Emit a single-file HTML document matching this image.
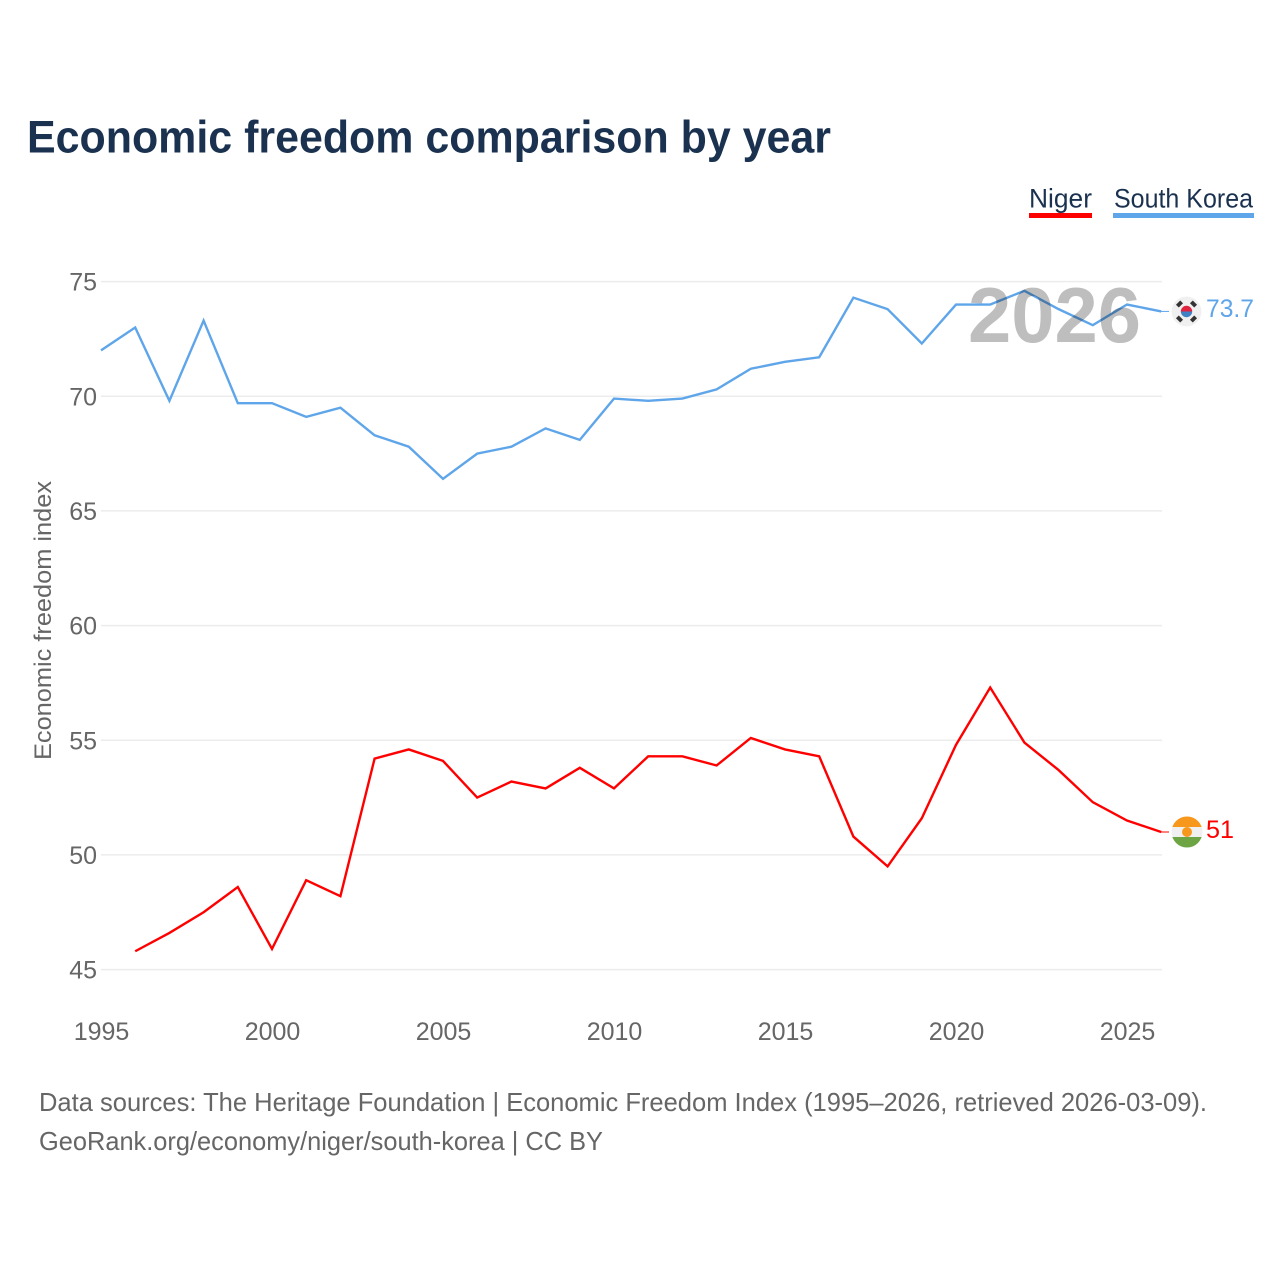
<!DOCTYPE html>
<html lang="en">
<head>
<meta charset="utf-8">
<title>Economic freedom comparison by year</title>
<style>
html,body{margin:0;padding:0;background:#fff;}
svg{display:block;font-family:"Liberation Sans",sans-serif;}
</style>
</head>
<body>
<svg id="chart" width="1280" height="1280" viewBox="0 0 1280 1280" xmlns="http://www.w3.org/2000/svg">
  <defs>
    <clipPath id="flag-kr-clip"><circle cx="1186.5" cy="311.5" r="15"/></clipPath>
    <clipPath id="flag-ne-clip"><circle cx="1187" cy="832" r="15.5"/></clipPath>
  </defs>
  <rect width="1280" height="1280" fill="#fff"/>
  <text x="27" y="152.5" font-size="45" font-weight="700" fill="#1a3250" textLength="804" lengthAdjust="spacingAndGlyphs">Economic freedom comparison by year</text>

  <g>
    <g>
      <text x="1029" y="207.5" font-size="27" fill="#1a3250" textLength="63" lengthAdjust="spacingAndGlyphs">Niger</text>
      <rect x="1029" y="213" width="63" height="5" fill="#ff0000"/>
    </g>
    <g>
      <text x="1114" y="207.5" font-size="27" fill="#1a3250" textLength="139" lengthAdjust="spacingAndGlyphs">South Korea</text>
      <rect x="1113" y="213" width="141" height="5" fill="#5fa5ea"/>
    </g>
  </g>

  <g id="grid"></g>
  <g id="y-ticks"></g>
  <g id="x-ticks"></g>
  <text transform="translate(51,620.5) rotate(-90)" text-anchor="middle" font-size="24" fill="#666" textLength="279" lengthAdjust="spacingAndGlyphs">Economic freedom index</text>

  <g id="series"></g>

  <text x="968" y="342" font-size="78" font-weight="700" fill="#bebebe" textLength="173" lengthAdjust="spacingAndGlyphs" style="mix-blend-mode:multiply">2026</text>

  <g clip-path="url(#flag-kr-clip)">
    <circle cx="1186.5" cy="311.5" r="15" fill="#f0f0f0"/>
    <path d="M1180.8 311.5a5.7 5.7 0 0 1 11.4 0z" fill="#e0243f"/>
    <path d="M1180.8 311.5a5.7 5.7 0 0 0 11.4 0z" fill="#3f7fc4"/>
    <g fill="#333">
      <rect x="-3" y="-2" width="6" height="4" transform="translate(1179.5,304) rotate(-45)"/>
      <rect x="-3" y="-2" width="6" height="4" transform="translate(1193.5,304) rotate(45)"/>
      <rect x="-3" y="-2" width="6" height="4" transform="translate(1179.5,319) rotate(45)"/>
      <rect x="-3" y="-2" width="6" height="4" transform="translate(1193.5,319) rotate(-45)"/>
    </g>
  </g>
  <g clip-path="url(#flag-ne-clip)">
    <rect x="1171" y="816" width="32" height="11" fill="#f7981d"/>
    <rect x="1171" y="827" width="32" height="10" fill="#f0f0f0"/>
    <rect x="1171" y="837" width="32" height="11" fill="#6da544"/>
    <circle cx="1187" cy="832" r="5" fill="#f7981d"/>
  </g>

  <text x="1206" y="317" font-size="25" fill="#5fa5ea" textLength="48" lengthAdjust="spacingAndGlyphs">73.7</text>
  <text x="1206" y="838" font-size="25" fill="#ff0000" textLength="28" lengthAdjust="spacingAndGlyphs">51</text>

  <g>
    <text x="39" y="1111" font-size="26" fill="#666" textLength="1168" lengthAdjust="spacingAndGlyphs">Data sources: The Heritage Foundation | Economic Freedom Index (1995–2026, retrieved 2026-03-09).</text>
    <text x="39" y="1150" font-size="26" fill="#666" textLength="564" lengthAdjust="spacingAndGlyphs">GeoRank.org/economy/niger/south-korea | CC BY</text>
  </g>
</svg>
<script>
const years = [1995,1996,1997,1998,1999,2000,2001,2002,2003,2004,2005,2006,2007,2008,2009,2010,2011,2012,2013,2014,2015,2016,2017,2018,2019,2020,2021,2022,2023,2024,2025,2026];
const southKorea = [72.0,73.0,69.8,73.3,69.7,69.7,69.1,69.5,68.3,67.8,66.4,67.5,67.8,68.6,68.1,69.9,69.8,69.9,70.3,71.2,71.5,71.7,74.3,73.8,72.3,74.0,74.0,74.6,73.8,73.1,74.0,73.7];
const niger = [null,45.8,46.6,47.5,48.6,45.9,48.9,48.2,54.2,54.6,54.1,52.5,53.2,52.9,53.8,52.9,54.3,54.3,53.9,55.1,54.6,54.3,50.8,49.5,51.6,54.8,57.3,54.9,53.7,52.3,51.5,51.0];
const yTickValues = [45,50,55,60,65,70,75];
const xTickValues = [1995,2000,2005,2010,2015,2020,2025];

const NS = 'http://www.w3.org/2000/svg';
function xScale(year){ return 101 + (year - 1995) * 34.2; }
function yScale(v){ return 969.6 - (v - 45) * (688 / 30); }
function make(tag, parent){
  const el = document.createElementNS(NS, tag);
  document.getElementById(parent).appendChild(el);
  return el;
}
yTickValues.forEach(function(v){
  const line = make('line', 'grid');
  
  
  line.setAttribute('x1', 101);
  line.setAttribute('x2', 1162);
  line.setAttribute('y1', yScale(v));
  line.setAttribute('y2', yScale(v));
  line.setAttribute('stroke', '#ececec');
  line.setAttribute('stroke-width', '1.5');
  const label = make('text', 'y-ticks');
  
  
  label.setAttribute('x', 97);
  label.setAttribute('y', yScale(v) + 9);
  label.setAttribute('text-anchor', 'end');
  label.setAttribute('font-size', '25');
  label.setAttribute('fill', '#666');
  label.textContent = v;
});
xTickValues.forEach(function(y){
  const label = make('text', 'x-ticks');
  
  
  label.setAttribute('x', xScale(y) + 0.5);
  label.setAttribute('y', 1040);
  label.setAttribute('text-anchor', 'middle');
  label.setAttribute('font-size', '25');
  label.setAttribute('fill', '#666');
  label.textContent = y;
});
function pathFor(values){
  const parts = [];
  values.forEach(function(v, i){
    if (v === null) return;
    parts.push((parts.length ? 'L' : 'M') + xScale(years[i]).toFixed(2) + ' ' + yScale(v).toFixed(2));
  });
  return parts.join('');
}
function lastPoint(values){ return yScale(values[values.length - 1]); }

const krLine = make('path', 'series');


krLine.setAttribute('d', pathFor(southKorea));
krLine.setAttribute('fill', 'none');
krLine.setAttribute('stroke', '#5fa5ea');
krLine.setAttribute('stroke-width', '2.4');

const neLine = make('path', 'series');


neLine.setAttribute('d', pathFor(niger));
neLine.setAttribute('fill', 'none');
neLine.setAttribute('stroke', '#ff0000');
neLine.setAttribute('stroke-width', '2.4');

const krLink = make('line', 'series');


krLink.setAttribute('x1', 1161);
krLink.setAttribute('x2', 1169);
krLink.setAttribute('y1', lastPoint(southKorea));
krLink.setAttribute('y2', lastPoint(southKorea));
krLink.setAttribute('stroke', '#5fa5ea');
krLink.setAttribute('stroke-width', '1');

const neLink = make('line', 'series');


neLink.setAttribute('x1', 1161);
neLink.setAttribute('x2', 1169);
neLink.setAttribute('y1', lastPoint(niger));
neLink.setAttribute('y2', lastPoint(niger));
neLink.setAttribute('stroke', '#ff0000');
neLink.setAttribute('stroke-width', '1');
</script>
</body>
</html>
